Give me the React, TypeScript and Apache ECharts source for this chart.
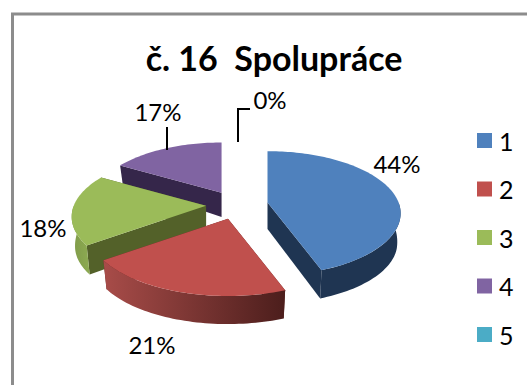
import React, { useEffect, useRef } from "react";
import * as echarts from "echarts";

const names = ["1", "2", "3", "4", "5"];
const values = [44.4, 20.6, 18.4, 16.6, 0];
const title = "č. 16  Spolupráce";
const topColors = ["#4F81BD", "#C0504D", "#9BBB59", "#8064A2", "#4BACC6"];
const cutColors = ["#1F3552", "#5E2523", "#536129", "#35264A", "#25616F"];
const arcFrom = ["#1F3552", "#A84C49", "#7F9A49", "#35264A", "#25616F"];
const arcTo = ["#1F3552", "#4C1E1C", "#8DAB52", "#35264A", "#25616F"];
const sliceZ = [3, 4, 2, 1, 5];
const labelXY = [[397, 163], [152, 344], [43, 227], [158, 111], [270, 99]];
const leaders = [null, null, null, [[167, 127], [167, 150]], [[238, 142], [238, 109], [250, 109]]];

const FONT = "Lato, Carlito, Calibri, sans-serif";
const CX = 237, CY = 205, R = 132, K = 0.46, P = 0.00133, EXPLODE = 31, BOTTOM = 0.975;
const total = values.reduce((a, b) => a + b, 0);
const D2R = Math.PI / 180;

const depthAt = (v: number) => Math.min(30, 27 + 0.1 * v);

function project(ax: number, ay: number, deg: number, z: number, withDepth: boolean) {
  const vo = (ay - CY) / K;
  const u = Math.sin(deg * D2R) * R;
  const v = -Math.cos(deg * D2R) * R;
  const s = z / (1 - (v + vo) * P);
  return [ax + u * s, ay + v * K * s + (withDepth ? depthAt(v + vo) : 0)];
}
function arc(ax: number, ay: number, from: number, to: number, z: number, withDepth: boolean) {
  const out: number[][] = [];
  const n = Math.max(1, Math.ceil(Math.abs(to - from) / 1.5));
  for (let i = 0; i <= n; i++) {
    out.push(project(ax, ay, from + ((to - from) * i) / n, z, withDepth));
  }
  return out;
}

function renderSlice(index: number) {
  return (_params: any, api: any) => {
    const value = api.value(0);
    const before = values.slice(0, index).reduce((a, b) => a + b, 0);
    const a0 = (before / total) * 360;
    const a1 = ((before + value) / total) * 360;
    const children: any[] = [];
    if (value > 0) {
      const mid = ((a0 + a1) / 2) * D2R;
      const ax = CX + Math.sin(mid) * EXPLODE;
      const ay = CY - Math.cos(mid) * EXPLODE * K;
      const bottomApex = [ax, ay + depthAt((ay - CY) / K)];
      const cut = (deg: number) => ({
        type: "polygon",
        shape: { points: [[ax, ay], project(ax, ay, deg, 1, false), project(ax, ay, deg, BOTTOM, true), bottomApex] },
        style: { fill: cutColors[index] },
      });
      children.push(cut(a1), cut(a0));
      const f0 = Math.max(a0, 90), f1 = Math.min(a1, 270);
      if (f1 > f0) {
        const top = arc(ax, ay, f0, f1, 1, false);
        const bot = arc(ax, ay, f1, f0, BOTTOM, true);
        children.push({
          type: "polygon",
          shape: { points: top.concat(bot) },
          style: {
            fill: new echarts.graphic.LinearGradient(0, 0, 1, 0, [
              { offset: 0, color: arcFrom[index] },
              { offset: 1, color: arcTo[index] },
            ]),
          },
        });
      }
      children.push({
        type: "polygon",
        shape: { points: [[ax, ay]].concat(arc(ax, ay, a0, a1, 1, false)) },
        style: { fill: topColors[index] },
      });
    }
    const lead = leaders[index];
    if (lead) {
      children.push({
        type: "polyline",
        shape: { points: lead },
        style: { stroke: "#000", lineWidth: 2, fill: "none" },
      });
    }
    children.push({
      type: "text",
      style: {
        text: `${Math.round(value)}%`,
        x: labelXY[index][0],
        y: labelXY[index][1],
        align: "center",
        verticalAlign: "middle",
        textAlign: "center",
        textVerticalAlign: "middle",
        fontFamily: FONT,
        fontSize: 24,
        fill: "#000",
      },
    });
    return { type: "group", children };
  };
}

export default function App() {
  const ref = useRef<HTMLDivElement>(null);
  useEffect(() => {
    document.body.style.margin = "0";
    const chart = echarts.init(ref.current!, null, { renderer: "svg" });
    chart.setOption({
      animation: false,
      backgroundColor: "#fff",
      title: {
        text: title,
        left: 269,
        top: 35,
        textAlign: "center",
        textStyle: { fontFamily: FONT, fontSize: 34, fontWeight: "bold", color: "#000" },
      },
      legend: {
        orient: "vertical",
        left: 477,
        top: 128,
        icon: "rect",
        itemWidth: 15,
        itemHeight: 15,
        itemGap: 23.5,
        padding: 0,
        data: names,
        textStyle: { fontFamily: FONT, fontSize: 25, color: "#000", padding: [0, 0, 0, 2] },
      },
      graphic: [
        {
          type: "polyline",
          shape: { points: [[12.5, 385], [12.5, 14], [527, 14]] },
          style: { stroke: "#8C8C8C", lineWidth: 3, fill: "none" },
        },
      ],
      series: names.map((name, i) => ({
        type: "custom",
        name,
        coordinateSystem: "none",
        z: sliceZ[i],
        itemStyle: { color: topColors[i] },
        data: [[values[i]]],
        renderItem: renderSlice(i),
      })),
    });
    return () => chart.dispose();
  }, []);
  return <div ref={ref} style={{ width: 527, height: 385 }} />;
}
